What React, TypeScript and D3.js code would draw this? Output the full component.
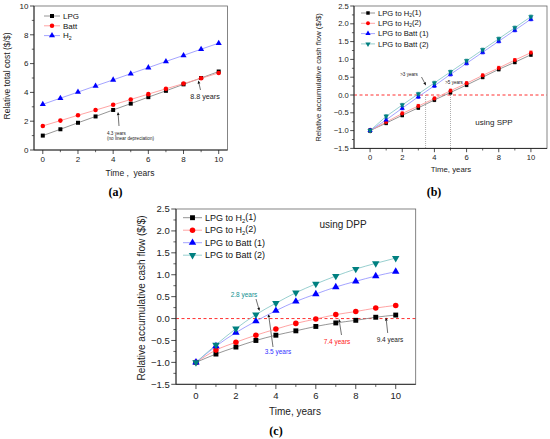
import React from "react";
import * as d3 from "d3";

const YEARS = [0, 1, 2, 3, 4, 5, 6, 7, 8, 9, 10];

// (a) relative total cost
const A_LPG = [1.0, 1.44, 1.89, 2.33, 2.78, 3.22, 3.67, 4.11, 4.56, 5.0, 5.45];
const A_BATT = [1.67, 2.04, 2.41, 2.77, 3.14, 3.51, 3.88, 4.25, 4.61, 4.98, 5.35];
const A_H2 = [3.17, 3.6, 4.02, 4.45, 4.87, 5.3, 5.72, 6.15, 6.57, 7.0, 7.42];
const A_TICKS = [0, 2, 4, 6, 8, 10];
const A_X_TICKS = [0, 2, 4, 6, 8, 10];

// (b) simple payback
const B_H2_1 = [-1, -0.79, -0.57, -0.36, -0.14, 0.07, 0.28, 0.5, 0.72, 0.92, 1.13];
const B_H2_2 = [-1, -0.76, -0.52, -0.31, -0.1, 0.12, 0.33, 0.55, 0.76, 0.98, 1.19];
const B_BATT_1 = [-1, -0.7, -0.37, -0.05, 0.26, 0.58, 0.89, 1.2, 1.51, 1.82, 2.13];
const B_BATT_2 = [-1, -0.6, -0.28, 0.03, 0.34, 0.65, 0.96, 1.27, 1.58, 1.89, 2.2];

// (c) discounted payback
const C_H2_1 = [-1, -0.81, -0.65, -0.5, -0.38, -0.28, -0.18, -0.1, -0.04, 0.03, 0.08];
const C_H2_2 = [-1, -0.72, -0.54, -0.38, -0.24, -0.11, -0.01, 0.09, 0.16, 0.24, 0.3];
const C_BATT_1 = [-1, -0.63, -0.32, -0.06, 0.18, 0.39, 0.56, 0.72, 0.85, 0.97, 1.07];
const C_BATT_2 = [-1, -0.6, -0.23, 0.09, 0.35, 0.59, 0.79, 0.97, 1.13, 1.26, 1.38];

const CASH_TICKS = [-1.5, -1.0, -0.5, 0.0, 0.5, 1.0, 1.5, 2.0, 2.5];
const CASH_X_TICKS = [0, 2, 4, 6, 8, 10];

type Shape = "square" | "circle" | "up" | "down";

interface Series {
  label: React.ReactNode;
  values: number[];
  color: string;
  line: string;
  shape: Shape;
}

const FONT = "Liberation Sans, Arial, sans-serif";

const BLACK = { color: "#000", line: "#8a8a8a", shape: "square" as Shape };
const RED = { color: "#ff0000", line: "#ff9a9a", shape: "circle" as Shape };
const BLUE = { color: "#0000ff", line: "#9a9aff", shape: "up" as Shape };
const TEAL = { color: "#008080", line: "#8ccaca", shape: "down" as Shape };

function h2(prefix: string, suffix: string) {
  return (
    <>
      {prefix}H
      <tspan fontSize="65%" dy="0.3em">2</tspan>
      <tspan dy="-0.3em">{suffix}</tspan>
    </>
  );
}

function symbolPath(shape: Shape, size: number) {
  const type =
    shape === "square" ? d3.symbolSquare : shape === "circle" ? d3.symbolCircle : d3.symbolTriangle;
  return d3.symbol().type(type).size(size)() || "";
}

interface PanelProps {
  box: [number, number, number, number]; // left, top, right, bottom
  xDomain: [number, number];
  yDomain: [number, number];
  xTicks: number[];
  yTicks: number[];
  yFormat: (v: number) => string;
  series: Series[];
  fs: number;
  markSize: number;
  curve?: d3.CurveFactory;
  zero?: boolean;
  errorBars?: boolean;
  legend: { x: number; y: number; dy: number; len: number; fs: number };
  xTitle: string;
  yTitle: string;
  titleFs: number;
  xTitlePos: [number, number];
  yTitlePos: [number, number];
  extra?: (x: d3.ScaleLinear<number, number>, y: d3.ScaleLinear<number, number>) => React.ReactNode;
}

function Panel(p: PanelProps) {
  const [l, t, r, b] = p.box;
  const x = d3.scaleLinear().domain(p.xDomain).range([l, r]);
  const y = d3.scaleLinear().domain(p.yDomain).range([b, t]);
  const line = d3
    .line<number>()
    .x((_, i) => x(YEARS[i]))
    .y((d) => y(d))
    .curve(p.curve || d3.curveLinear);

  const xMinor = YEARS.filter((v) => !p.xTicks.includes(v));
  const yStep = p.yTicks[1] - p.yTicks[0];
  const yMinor = p.yTicks.slice(0, -1).map((v) => v + yStep / 2);
  const major = p.fs * 0.5;
  const minor = major * 0.55;

  return (
    <g fontFamily={FONT}>
      {p.zero && (
        <line x1={l} x2={r} y1={y(0)} y2={y(0)} stroke="#ff3030" strokeWidth={1} strokeDasharray="3,2.5" />
      )}
      {p.extra && p.extra(x, y)}
      {p.series.map((s, k) => (
        <path key={"l" + k} d={line(s.values) || ""} fill="none" stroke={s.line} strokeWidth={0.9} />
      ))}
      {p.errorBars &&
        p.series.map((s, k) =>
          s.values.map((v, i) => {
            const cx = x(YEARS[i]);
            const e = 0.045;
            return (
              <g key={"e" + k + "-" + i} stroke={s.color} strokeWidth={0.7}>
                <line x1={cx} x2={cx} y1={y(v - e)} y2={y(v + e)} />
                <line x1={cx - 1.6} x2={cx + 1.6} y1={y(v + e)} y2={y(v + e)} />
                <line x1={cx - 1.6} x2={cx + 1.6} y1={y(v - e)} y2={y(v - e)} />
              </g>
            );
          })
        )}
      {p.series.map((s, k) =>
        s.values.map((v, i) => (
          <path
            key={"m" + k + "-" + i}
            d={symbolPath(s.shape, p.markSize)}
            transform={`translate(${x(YEARS[i])},${y(v)})${s.shape === "down" ? " rotate(180)" : ""}`}
            fill={s.color}
          />
        ))
      )}
      {/* frame */}
      <rect x={l} y={t} width={r - l} height={b - t} fill="none" stroke="#666" strokeWidth={0.8} />
      <line x1={l} x2={l} y1={t} y2={b} stroke="#222" strokeWidth={0.9} />
      <line x1={l} x2={r} y1={b} y2={b} stroke="#222" strokeWidth={0.9} />
      {/* y ticks */}
      {p.yTicks.map((v) => (
        <g key={"yt" + v}>
          <line x1={l - major} x2={l} y1={y(v)} y2={y(v)} stroke="#222" strokeWidth={0.8} />
          <text x={l - major - 1.5} y={y(v)} dy="0.35em" textAnchor="end" fontSize={p.fs} fill="#222">
            {p.yFormat(v)}
          </text>
        </g>
      ))}
      {yMinor.map((v) => (
        <line key={"ym" + v} x1={l - minor} x2={l} y1={y(v)} y2={y(v)} stroke="#222" strokeWidth={0.7} />
      ))}
      {/* x ticks */}
      {p.xTicks.map((v) => (
        <g key={"xt" + v}>
          <line x1={x(v)} x2={x(v)} y1={b} y2={b + major} stroke="#222" strokeWidth={0.8} />
          <text x={x(v)} y={b + major + p.fs * 1.05} textAnchor="middle" fontSize={p.fs} fill="#222">
            {v}
          </text>
        </g>
      ))}
      {xMinor.map((v) => (
        <line key={"xm" + v} x1={x(v)} x2={x(v)} y1={b} y2={b + minor} stroke="#222" strokeWidth={0.7} />
      ))}
      {/* titles */}
      <text x={p.xTitlePos[0]} y={p.xTitlePos[1]} textAnchor="middle" fontSize={p.titleFs} fill="#222"
        style={{ whiteSpace: "pre" }}>
        {p.xTitle}
      </text>
      <text
        transform={`translate(${p.yTitlePos[0]},${p.yTitlePos[1]}) rotate(-90)`}
        textAnchor="middle"
        dy="0.35em"
        fontSize={p.titleFs}
        fill="#222"
      >
        {p.yTitle}
      </text>
      {/* legend */}
      {p.series.map((s, k) => {
        const ly = p.legend.y + k * p.legend.dy;
        const lx = p.legend.x;
        return (
          <g key={"lg" + k}>
            <line x1={lx} x2={lx + p.legend.len} y1={ly} y2={ly} stroke={s.line} strokeWidth={0.9} />
            <path
              d={symbolPath(s.shape, p.markSize)}
              transform={`translate(${lx + p.legend.len / 2},${ly})${s.shape === "down" ? " rotate(180)" : ""}`}
              fill={s.color}
            />
            <text x={lx + p.legend.len + 3} y={ly} dy="0.35em" fontSize={p.legend.fs} fill="#111">
              {s.label}
            </text>
          </g>
        );
      })}
    </g>
  );
}

function Arrow({ x1, y1, x2, y2, color = "#111" }: { x1: number; y1: number; x2: number; y2: number; color?: string }) {
  const a = Math.atan2(y2 - y1, x2 - x1);
  const h = 3.2;
  const w = 1.4;
  const bx = x2 - h * Math.cos(a);
  const by = y2 - h * Math.sin(a);
  const px = -Math.sin(a) * w;
  const py = Math.cos(a) * w;
  return (
    <g>
      <line x1={x1} y1={y1} x2={bx} y2={by} stroke={color} strokeWidth={0.6} />
      <path d={`M${x2},${y2}L${bx + px},${by + py}L${bx - px},${by - py}Z`} fill={color} />
    </g>
  );
}

const fmt1 = d3.format(".1f");

export default function App() {
  const seriesA: Series[] = [
    { label: "LPG", values: A_LPG, ...BLACK },
    { label: "Batt", values: A_BATT, ...RED },
    { label: h2("", ""), values: A_H2, ...BLUE },
  ];
  const seriesB: Series[] = [
    { label: h2("LPG to ", "(1)"), values: B_H2_1, ...BLACK },
    { label: h2("LPG to ", "(2)"), values: B_H2_2, ...RED },
    { label: "LPG to Batt (1)", values: B_BATT_1, ...BLUE },
    { label: "LPG to Batt (2)", values: B_BATT_2, ...TEAL },
  ];
  const seriesC: Series[] = [
    { label: h2("LPG to ", "(1)"), values: C_H2_1, ...BLACK },
    { label: h2("LPG to ", "(2)"), values: C_H2_2, ...RED },
    { label: "LPG to Batt (1)", values: C_BATT_1, ...BLUE },
    { label: "LPG to Batt (2)", values: C_BATT_2, ...TEAL },
  ];

  return (
    <svg
      width={550}
      height={439}
      viewBox="0 0 550 439"
      style={{ position: "absolute", left: 0, top: 0, background: "#fff" }}
    >
      <rect width={550} height={439} fill="#fff" />
      <Panel
        box={[34, 6, 227.5, 150]}
        xDomain={[-0.5, 10.5]}
        yDomain={[0, 10]}
        xTicks={A_X_TICKS}
        yTicks={A_TICKS}
        yFormat={(v) => String(v)}
        series={seriesA}
        fs={8}
        markSize={16}
        legend={{ x: 44, y: 16, dy: 9.8, len: 16, fs: 8 }}
        xTitle="Time ,  years"
        yTitle="Relative total cost ($/$)"
        titleFs={8.5}
        xTitlePos={[130, 176]}
        yTitlePos={[7, 76]}
        extra={() => (
          <g fontFamily={FONT} fill="#222">
            <Arrow x1={119} y1={126} x2={118} y2={112} />
            <text x={107} y={134.5} fontSize={4.6}>4.3 years</text>
            <text x={107} y={139.5} fontSize={4.6}>(no linear depreciation)</text>
            <Arrow x1={200.5} y1={90} x2={198.3} y2={80.5} />
            <text x={205} y={99} textAnchor="middle" fontSize={7.2}>8.8 years</text>
          </g>
        )}
      />
      <text x={115.5} y={196} textAnchor="middle" fontFamily="Liberation Serif, serif" fontWeight="bold" fontSize={12}>
        (a)
      </text>

      <Panel
        box={[354, 6, 547, 148.4]}
        xDomain={[-1, 11]}
        yDomain={[-1.5, 2.5]}
        xTicks={CASH_X_TICKS}
        yTicks={CASH_TICKS}
        yFormat={fmt1}
        series={seriesB}
        fs={7.6}
        markSize={12}
        zero
        errorBars
        legend={{ x: 361, y: 13, dy: 10.3, len: 14, fs: 7.6 }}
        xTitle="Time, years"
        yTitle="Relative accumulative cash flow ($/$)"
        titleFs={7.8}
        xTitlePos={[451, 172]}
        yTitlePos={[318, 77.5]}
        extra={(x, y) => (
          <g fontFamily={FONT} fill="#222">
            <line x1={x(3.45)} x2={x(3.45)} y1={y(0)} y2={y(-1.5)} stroke="#777" strokeWidth={0.6} strokeDasharray="1,1" />
            <line x1={x(5)} x2={x(5)} y1={y(0)} y2={y(-1.5)} stroke="#777" strokeWidth={0.6} strokeDasharray="1,1" />
            <text x={409} y={76} textAnchor="middle" fontSize={4.6}>&gt;3 years</text>
            <Arrow x1={421.5} y1={77} x2={426} y2={85.5} />
            <text x={454} y={84} textAnchor="middle" fontSize={4.6}>&gt;5 years</text>
            <text x={494} y={125} textAnchor="middle" fontSize={8}>using SPP</text>
          </g>
        )}
      />
      <text x={434} y={196} textAnchor="middle" fontFamily="Liberation Serif, serif" fontWeight="bold" fontSize={12}>
        (b)
      </text>

      <Panel
        box={[176, 209, 415.7, 384.3]}
        xDomain={[-1, 11]}
        yDomain={[-1.5, 2.5]}
        xTicks={CASH_X_TICKS}
        yTicks={CASH_TICKS}
        yFormat={fmt1}
        series={seriesC}
        fs={9.5}
        markSize={24}
        zero
        curve={d3.curveMonotoneX}
        legend={{ x: 183, y: 217.7, dy: 12.5, len: 19, fs: 9 }}
        xTitle="Time, years"
        yTitle="Relative accumulative cash flow ($/$)"
        titleFs={10}
        xTitlePos={[295, 415]}
        yTitlePos={[141, 298]}
        extra={() => (
          <g fontFamily={FONT}>
            <text x={244} y={296.5} textAnchor="middle" fontSize={6.5} fill="#119090">2.8 years</text>
            <Arrow x1={256} y1={299} x2={259.5} y2={311} />
            <Arrow x1={273} y1={347} x2={268.5} y2={314} />
            <text x={278} y={353.5} textAnchor="middle" fontSize={6.5} fill="#3333ff">3.5 years</text>
            <Arrow x1={341.5} y1={335} x2={339} y2={319} />
            <text x={337} y={343.5} textAnchor="middle" fontSize={6.5} fill="#ff2020">7.4 years</text>
            <Arrow x1={387.7} y1={333} x2={386} y2={317.5} />
            <text x={390} y={342} textAnchor="middle" fontSize={6.5} fill="#222">9.4 years</text>
            <text x={343} y={227.5} textAnchor="middle" fontSize={10} fill="#222">using DPP</text>
          </g>
        )}
      />
      <text x={276} y={435} textAnchor="middle" fontFamily="Liberation Serif, serif" fontWeight="bold" fontSize={12}>
        (c)
      </text>
    </svg>
  );
}
